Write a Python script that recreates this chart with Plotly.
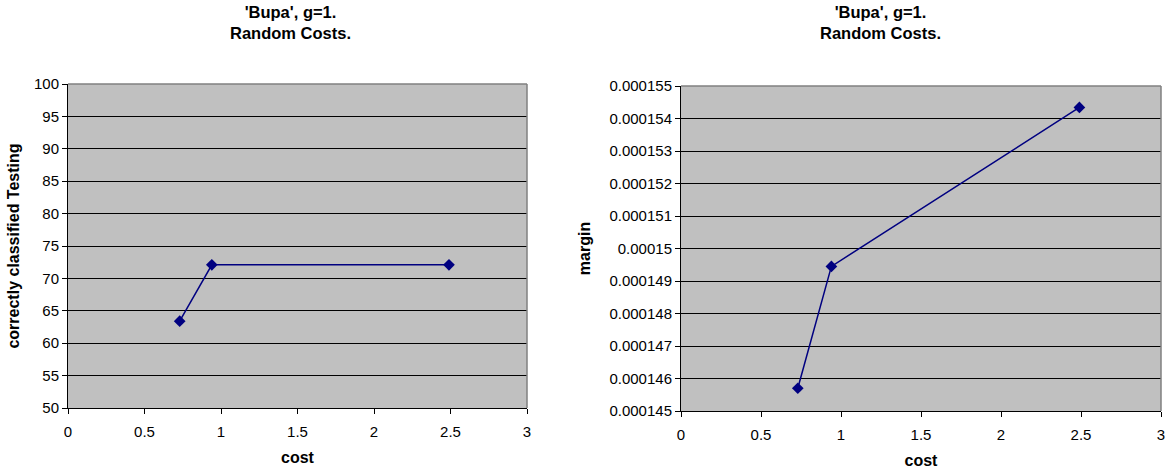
import plotly.graph_objects as go

cost = [0.73, 0.94, 2.49]
correct_testing = [63.4, 72.1, 72.1]
margin = [0.0001457, 0.00014945, 0.00015434]

x_ticks = [0, 0.5, 1, 1.5, 2, 2.5, 3]
x_labels = ["0", "0.5", "1", "1.5", "2", "2.5", "3"]
y1_ticks = [50, 55, 60, 65, 70, 75, 80, 85, 90, 95, 100]
y2_ticks = [0.000145, 0.000146, 0.000147, 0.000148, 0.000149, 0.00015,
            0.000151, 0.000152, 0.000153, 0.000154, 0.000155]
y2_labels = ["0.000145", "0.000146", "0.000147", "0.000148", "0.000149", "0.00015",
             "0.000151", "0.000152", "0.000153", "0.000154", "0.000155"]

title_text = "<b>'Bupa', g=1.<br>Random Costs.</b>"
FONT = "Liberation Sans, Arial, sans-serif"
W, H = 1168, 471
ML, MR, MT, MB = 68, 7, 84, 60
PW, PH = W - ML - MR, H - MT - MB


def xd(a, b):
    return ((a - ML) / PW, (b - ML) / PW)


def yd(top, bottom):
    base = H - MB
    return ((base - bottom) / PH, (base - top) / PH)


fig = go.Figure()
style = dict(mode="lines+markers", line=dict(color="#000080", width=1.5),
             marker=dict(symbol="diamond", size=9, color="#000080"),
             showlegend=False, hoverinfo="x+y")
fig.add_trace(go.Scatter(x=cost, y=correct_testing, xaxis="x", yaxis="y", **style))
fig.add_trace(go.Scatter(x=cost, y=margin, xaxis="x2", yaxis="y2", **style))

axis_common = dict(showline=True, linecolor="black", linewidth=1, ticks="outside",
                   ticklen=5, tickcolor="black", zeroline=False, automargin=False,
                   tickfont=dict(family=FONT, size=15, color="black"))
xt = dict(text="<b>cost</b>", font=dict(family=FONT, size=16), standoff=12)

fig.update_layout(
    width=W, height=H, margin=dict(l=ML, r=MR, t=MT, b=MB, autoexpand=False),
    paper_bgcolor="white", plot_bgcolor="#C0C0C0",
    font=dict(family=FONT, color="black"),
    xaxis=dict(domain=xd(68, 527), range=[0, 3], anchor="y", tickvals=x_ticks,
               ticktext=x_labels, showgrid=False, ticklabelstandoff=5, title=xt,
               **axis_common),
    yaxis=dict(domain=yd(84, 408), range=[50, 100], anchor="x", tickvals=y1_ticks,
               showgrid=True, gridcolor="black", gridwidth=1,
               title=dict(text="<b>correctly classified Testing</b>",
                          font=dict(family=FONT, size=16), standoff=10),
               **axis_common),
    xaxis2=dict(domain=xd(681, 1161), range=[0, 3], anchor="y2", tickvals=x_ticks,
                ticktext=x_labels, showgrid=False, ticklabelstandoff=5, title=xt,
                **axis_common),
    yaxis2=dict(domain=yd(86, 411), range=[0.000145, 0.000155], anchor="x2",
                tickvals=y2_ticks, ticktext=y2_labels, showgrid=True, gridcolor="black",
                gridwidth=1,
                title=dict(text="<b>margin</b>", font=dict(family=FONT, size=16), standoff=14),
                **axis_common),
)

# gray top/right border of plot areas
for xr, yr in (("x", "y"), ("x2", "y2")):
    fig.add_shape(type="line", xref=f"{xr} domain", yref=f"{yr} domain",
                  x0=0, x1=1, y0=1, y1=1, line=dict(color="#808080", width=1.5), layer="above")
    fig.add_shape(type="line", xref=f"{xr} domain", yref=f"{yr} domain",
                  x0=1, x1=1, y0=0, y1=1, line=dict(color="#808080", width=1.5), layer="above")

for cx in (290, 880):
    fig.add_annotation(text=title_text, x=(cx - ML) / PW, y=1 + (MT - 1) / PH, xref="paper",
                       yref="paper", xanchor="center", yanchor="top", showarrow=False,
                       font=dict(family=FONT, size=16.5, color="black"))

fig.write_html("out.html", config={"displayModeBar": False},
               post_script="document.body.style.margin='0';")
